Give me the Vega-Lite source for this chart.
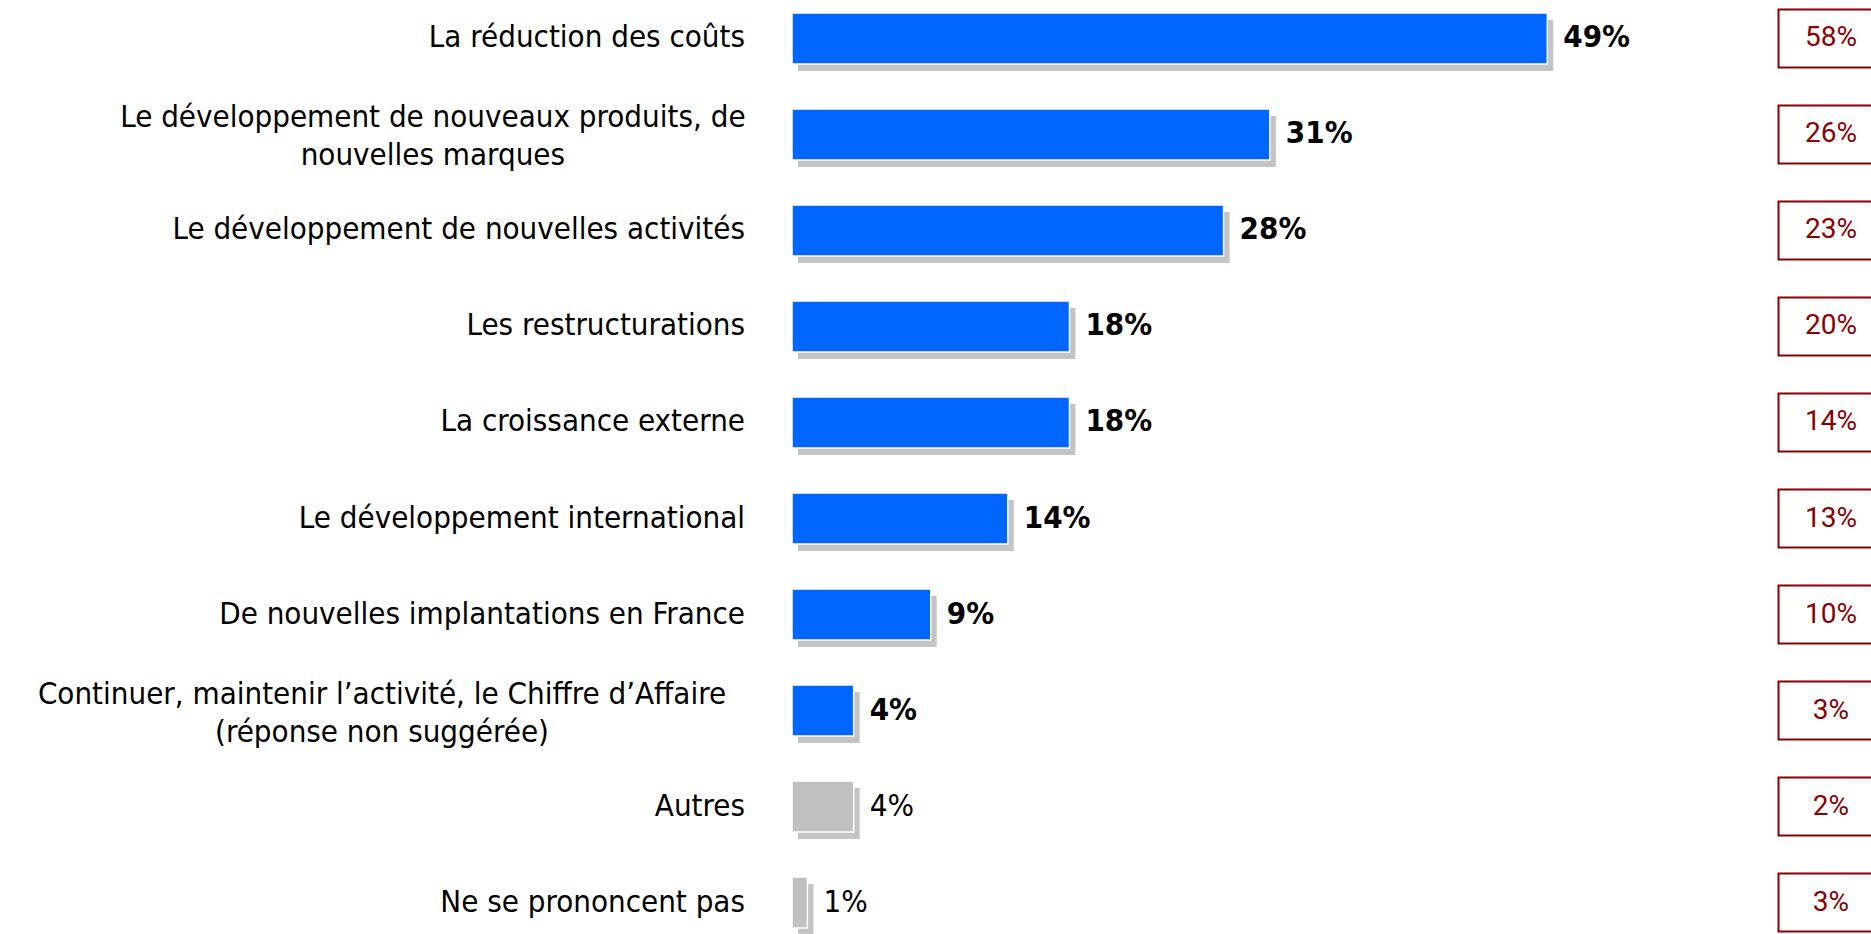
{
  "$schema": "https://vega.github.io/schema/vega-lite/v6.json",
  "autosize": {"type": "none"},
  "padding": {"left": 792, "top": 13, "right": 0, "bottom": 6},
  "width": 1079,
  "height": 915,
  "background": "white",
  "config": {"view": {"stroke": null}},
  "data": {
    "values": [
      {"cat": "La réduction des coûts", "pct": 49, "label": "49%", "ref": "58%", "group": "réponse"},
      {"cat": "Le développement de nouveaux produits, de|nouvelles marques", "pct": 31, "label": "31%", "ref": "26%", "group": "réponse"},
      {"cat": "Le développement de nouvelles activités", "pct": 28, "label": "28%", "ref": "23%", "group": "réponse"},
      {"cat": "Les restructurations", "pct": 18, "label": "18%", "ref": "20%", "group": "réponse"},
      {"cat": "La croissance externe", "pct": 18, "label": "18%", "ref": "14%", "group": "réponse"},
      {"cat": "Le développement international", "pct": 14, "label": "14%", "ref": "13%", "group": "réponse"},
      {"cat": "De nouvelles implantations en France", "pct": 9, "label": "9%", "ref": "10%", "group": "réponse"},
      {"cat": "Continuer, maintenir l’activité, le Chiffre d’Affaire|(réponse non suggérée)", "pct": 4, "label": "4%", "ref": "3%", "group": "réponse"},
      {"cat": "Autres", "pct": 4, "label": "4%", "ref": "2%", "group": "autre"},
      {"cat": "Ne se prononcent pas", "pct": 1, "label": "1%", "ref": "3%", "group": "autre"}
    ]
  },
  "encoding": {
    "y": {
      "field": "cat",
      "type": "nominal",
      "sort": null,
      "scale": {"paddingInner": 0.47, "paddingOuter": 0},
      "axis": null
    }
  },
  "layer": [
    {
      "mark": {"type": "bar", "color": "#c4c4c4", "xOffset": 6, "yOffset": 7},
      "encoding": {
        "x": {"field": "pct", "type": "quantitative", "scale": {"domain": [0, 70]}, "axis": null}
      }
    },
    {
      "mark": {"type": "bar", "stroke": "#ffffff", "strokeWidth": 1.5},
      "encoding": {
        "x": {"field": "pct", "type": "quantitative", "scale": {"domain": [0, 70]}, "axis": null},
        "color": {
          "field": "group",
          "type": "nominal",
          "scale": {"domain": ["réponse", "autre"], "range": ["#0066ff", "#c0c0c0"]},
          "legend": null
        }
      }
    },
    {
      "transform": [{"filter": "indexof(datum.cat, '|') < 0"}],
      "mark": {"type": "text", "align": "right", "baseline": "middle", "font": "DejaVu Sans Condensed", "fontSize": 31, "color": "#000000"},
      "encoding": {
        "x": {"datum": -3.05},
        "text": {"field": "cat"}
      }
    },
    {
      "transform": [{"filter": "indexof(datum.cat, 'produits') >= 0"}],
      "mark": {"type": "text", "align": "center", "baseline": "middle", "dy": -16, "lineBreak": "|", "lineHeight": 38, "font": "DejaVu Sans Condensed", "fontSize": 31, "color": "#000000"},
      "encoding": {
        "x": {"datum": -23.3},
        "text": {"field": "cat"}
      }
    },
    {
      "transform": [{"filter": "indexof(datum.cat, 'Continuer') >= 0"}],
      "mark": {"type": "text", "align": "center", "baseline": "middle", "dy": -16, "lineBreak": "|", "lineHeight": 38, "font": "DejaVu Sans Condensed", "fontSize": 31, "color": "#000000"},
      "encoding": {
        "x": {"datum": -26.6},
        "text": {"field": "cat"}
      }
    },
    {
      "transform": [{"filter": "datum.group == 'réponse'"}],
      "mark": {"type": "text", "align": "left", "baseline": "middle", "dx": 16, "font": "DejaVu Sans Condensed", "fontSize": 31, "fontWeight": "bold", "color": "#000000"},
      "encoding": {
        "x": {"field": "pct", "type": "quantitative"},
        "text": {"field": "label"}
      }
    },
    {
      "transform": [{"filter": "datum.group == 'autre'"}],
      "mark": {"type": "text", "align": "left", "baseline": "middle", "dx": 16, "font": "DejaVu Sans Condensed", "fontSize": 31, "fontWeight": "normal", "color": "#000000"},
      "encoding": {
        "x": {"field": "pct", "type": "quantitative"},
        "text": {"field": "label"}
      }
    },
    {
      "mark": {"type": "bar", "height": 58, "fill": "#ffffff", "stroke": "#8b0000", "strokeWidth": 2, "clip": false},
      "encoding": {
        "x": {"datum": 64},
        "x2": {"datum": 71}
      }
    },
    {
      "mark": {"type": "text", "align": "center", "baseline": "middle", "font": "Roboto", "fontSize": 28, "color": "#8b0000"},
      "encoding": {
        "x": {"datum": 67.4},
        "text": {"field": "ref"}
      }
    }
  ]
}
